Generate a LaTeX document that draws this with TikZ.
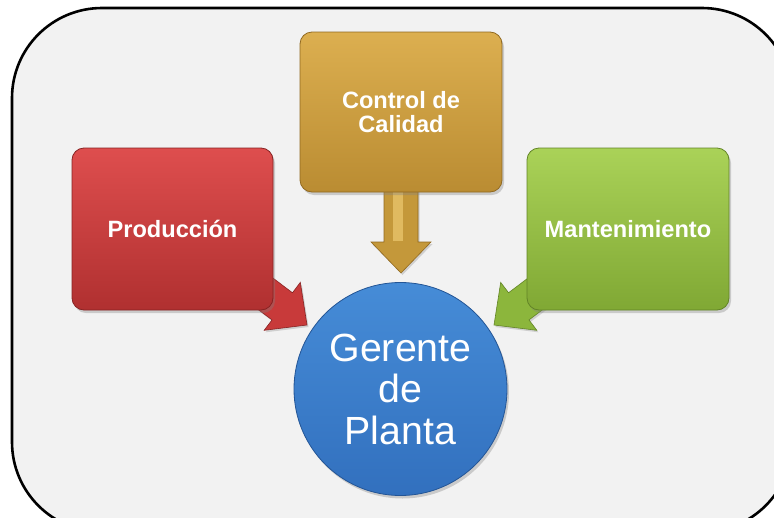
\documentclass[tikz,border=0pt]{standalone}
\usepackage{fontspec}
\setmainfont{Liberation Sans}
\usetikzlibrary{shadows}
\definecolor{bg}{HTML}{F2F2F2}
\definecolor{redT}{RGB}{222,78,78}
\definecolor{redB}{RGB}{176,48,48}
\definecolor{redE}{RGB}{135,35,35}
\definecolor{redA}{RGB}{200,58,58}
\definecolor{goldT}{RGB}{220,175,80}
\definecolor{goldB}{RGB}{186,140,50}
\definecolor{goldE}{RGB}{145,105,32}
\definecolor{goldA}{RGB}{196,152,58}
\definecolor{goldL}{RGB}{224,186,96}
\definecolor{grnT}{RGB}{170,210,88}
\definecolor{grnB}{RGB}{128,168,52}
\definecolor{grnE}{RGB}{98,132,38}
\definecolor{grnA}{RGB}{140,182,60}
\definecolor{bluT}{RGB}{70,140,215}
\definecolor{bluB}{RGB}{50,112,190}
\definecolor{bluE}{RGB}{35,85,150}
\newcommand\blockarr[5]{%
  \begin{scope}[shift={(#1)},rotate=#2]
    \fill[#4, draw=#5, line width=0.6pt, drop shadow={shadow xshift=1.5pt,shadow yshift=-2pt,opacity=0.3}]
      (0,0) -- (-31,30) -- (-31,17) -- (-#3,17) -- (-#3,-17) -- (-31,-17) -- (-31,-30) -- cycle;
  \end{scope}}
\begin{document}
\begin{tikzpicture}[x=1pt,y=-1pt,
  box/.style={rounded corners=12pt, inner sep=0pt, text=white,
    font=\fontsize{23.6}{24}\selectfont\bfseries, align=center,
    line width=0.8pt,
    drop shadow={shadow xshift=2pt,shadow yshift=-3pt,opacity=0.35}},
  ball/.style={circle, inner sep=0pt, minimum size=213pt, text=white,
    font=\fontsize{39.3}{41.5}\selectfont, align=center, line width=0.8pt,
    drop shadow={shadow xshift=2pt,shadow yshift=-3pt,opacity=0.35}}]
\useasboundingbox (0,0) rectangle (774,517);
\begin{scope}
\clip (0,0) rectangle (774,517);
\draw[line width=2.6pt, fill=bg, rounded corners=90pt] (12,8) rectangle (792,532);
\end{scope}
% arrow tips
\coordinate (tipP) at (307,325);
\coordinate (tipC) at (401,273);
\coordinate (tipM) at (494,325);
\blockarr{tipP}{-37}{85}{redA}{redE}
\blockarr{tipM}{-143}{85}{grnA}{grnE}
\blockarr{tipC}{-90}{125}{goldA}{goldE}
\begin{scope}[shift={(tipC)},rotate=-90]
  \fill[goldL] (-118,-2) rectangle (-32,8);
\end{scope}
% boxes
\node[box, minimum width=201pt, minimum height=162pt, top color=redT, bottom color=redB, draw=redE]
  (prod) at (172.5,229) {Producción};
\node[box, minimum width=202pt, minimum height=160pt, top color=goldT, bottom color=goldB, draw=goldE]
  (cal) at (401,112) {Control de\\Calidad};
\node[box, minimum width=202pt, minimum height=162pt, top color=grnT, bottom color=grnB, draw=grnE]
  (mant) at (628,229) {Mantenimiento};
% circle
\node[ball, top color=bluT, bottom color=bluB, draw=bluE]
  (ger) at (400.5,389) {Gerente\\de\\Planta};
\end{tikzpicture}
\end{document}
